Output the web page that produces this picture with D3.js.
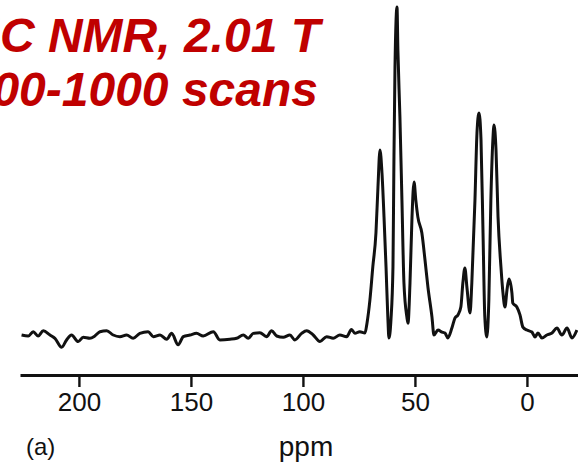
<!DOCTYPE html>
<html>
<head>
<meta charset="utf-8">
<script src="https://cdn.jsdelivr.net/npm/d3@7"></script>
<style>
  body { margin: 0; background: #fff; }
  svg { display: block; }
</style>
</head>
<body>
<div id="chart"></div>
<script>
// chemical shift (ppm) and intensity, left to right
var ppm = [225.6, 222.6, 220.4, 218.2, 215.9, 212.9, 210.7, 207.7, 205.5, 203.3,
  200.3, 198.1, 195.1, 192.9, 190.6, 187.6, 184.7, 181.7, 178.7, 175.8,
  172.8, 169.1, 166.8, 163.8, 160.8, 158.6, 155.7, 153.4, 150.4, 147.5,
  144.5, 140.0, 137.1, 132.6, 129.6, 126.6, 124.4, 122.2, 119.2, 116.2,
  114.0, 111.7, 108.8, 105.8, 103.6, 100.6, 98.3, 95.4, 92.4, 89.4,
  86.5, 83.5, 80.5, 78.3, 76.8, 74.6, 72.3, 71.4, 70.1, 68.8,
  67.4, 66.5, 65.6, 64.7, 63.8, 62.9, 62.1, 61.6, 60.7, 59.8,
  59.4, 58.9, 58.0, 57.6, 56.7, 55.8, 54.9, 53.6, 53.1, 52.2,
  51.3, 50.4, 49.6, 48.7, 46.9, 45.5, 44.2, 42.4, 41.5, 39.7,
  37.9, 36.6, 35.3, 33.5, 32.1, 30.8, 29.5, 28.6, 27.7, 26.8,
  25.4, 24.6, 23.2, 22.3, 21.4, 20.5, 19.6, 18.8, 17.9, 17.0,
  16.1, 15.2, 14.7, 13.8, 12.9, 11.6, 10.7, 9.8, 8.9, 8.0,
  6.7, 6.3, 4.5, 3.1, 1.8, 0.0, -2.2, -3.6, -4.9, -6.7,
  -8.9, -11.2, -13.4, -15.6, -17.9, -20.1, -22.3];
var intensity = [0, -0.3, 1.0, -0.3, 1.3, 0, -1.0, -3.7, -1.5, 0,
  -2.0, -0.7, -1.0, -0.3, 1.0, 1.3, 0, -0.5, 0, -1.0,
  0.5, 1.0, -0.5, 0, -1.3, 0.5, -3.0, -0.5, 0, 0.5,
  -0.3, 1.0, -1.5, -1.3, -1.0, 0, -1.0, 0.5, 0.7, -0.5,
  1.3, -0.3, -0.7, 0, -1.5, 0.5, 1.3, 0, -2.0, -0.5,
  -1.0, 0, -0.5, 1.7, 0.5, 1.0, 0.6, 3.6, 10.6, 20.7,
  31.0, 45.0, 56.2, 49.2, 35.9, 20.7, 5.5, -0.9, 4.6, 20.7,
  51.1, 81.5, 99.7, 86.6, 66.3, 41.0, 15.8, 5.5, 3.6, 15.8,
  35.9, 46.5, 41.0, 35.9, 31.0, 22.8, 14.6, 5.5, 0, 1.5,
  0.9, 0.6, -0.9, 2.1, 5.2, 6.1, 8.5, 15.8, 20.4, 14.6,
  6.7, 15.8, 41.0, 61.4, 67.5, 59.3, 31.0, 5.5, -0.6, 10.6,
  41.0, 59.3, 63.8, 56.2, 35.9, 20.7, 12.8, 8.5, 13.7, 17.0,
  12.8, 9.7, 8.5, 6.1, 2.4, 1.5, 0.9, -0.6, 0.6, -0.9,
  0, 0.6, 2.1, 0, 2.1, -0.9, 1.5];
var tickValues = [200, 150, 100, 50, 0];
var titleLine1 = "C NMR, 2.01 T";
var titleLine2 = "100-1000 scans";
var xLabel = "ppm";
var panelLabel = "(a)";

var width = 578, height = 464;
var font = "'Liberation Sans', Arial, sans-serif";

var data = ppm.map(function (p, i) {
  return {ppm: p, value: intensity[i]};
});

var svg = d3.select("#chart").append("svg")
  .attr("width", width)
  .attr("height", height);

var x = d3.scaleLinear().domain([226.3, -22.8]).range([20, 578]);
var y = d3.scaleLinear().domain([0, 100]).range([335, 6]);

var line = d3.line()
  .x(function (d) { return x(d.ppm); })
  .y(function (d) { return y(d.value); })
  .curve(d3.curveMonotoneX);

svg.append("path")
  .datum(data)
  .attr("d", line)
  .attr("fill", "none")
  .attr("stroke", "#111")
  .attr("stroke-width", 3)
  .attr("stroke-linejoin", "round");

// x axis
var axis = svg.append("g")
  .attr("transform", "translate(0,375)")
  .call(d3.axisBottom(x).tickValues(tickValues).tickSize(12).tickSizeOuter(0).tickPadding(6));
axis.select(".domain").attr("stroke", "#111").attr("stroke-width", 2.8);
axis.selectAll(".tick line").attr("stroke", "#111").attr("stroke-width", 2.4);
axis.selectAll(".tick text")
  .attr("fill", "#111")
  .style("font-family", font)
  .style("font-size", "26px");

svg.append("text")
  .attr("x", 306)
  .attr("y", 456)
  .attr("text-anchor", "middle")
  .style("font-family", font)
  .style("font-size", "28px")
  .attr("fill", "#111")
  .text(xLabel);

svg.append("text")
  .attr("x", 26)
  .attr("y", 455)
  .style("font-family", font)
  .style("font-size", "24px")
  .attr("fill", "#111")
  .text(panelLabel);

// red title, partly cut off on the left
var title = svg.append("text")
  .attr("text-anchor", "end")
  .style("font-family", font)
  .style("font-size", "48px")
  .style("font-weight", "bold")
  .style("font-style", "italic")
  .attr("fill", "#c00000");
title.append("tspan").attr("x", 320).attr("y", 52)
  .text("13").style("font-size", "28px").attr("dy", -18);
title.append("tspan").attr("dy", 18).text(titleLine1);
svg.append("text")
  .attr("x", 318)
  .attr("y", 106)
  .attr("text-anchor", "end")
  .style("font-family", font)
  .style("font-size", "48px")
  .style("font-weight", "bold")
  .style("font-style", "italic")
  .attr("fill", "#c00000")
  .text(titleLine2);
</script>
</body>
</html>
